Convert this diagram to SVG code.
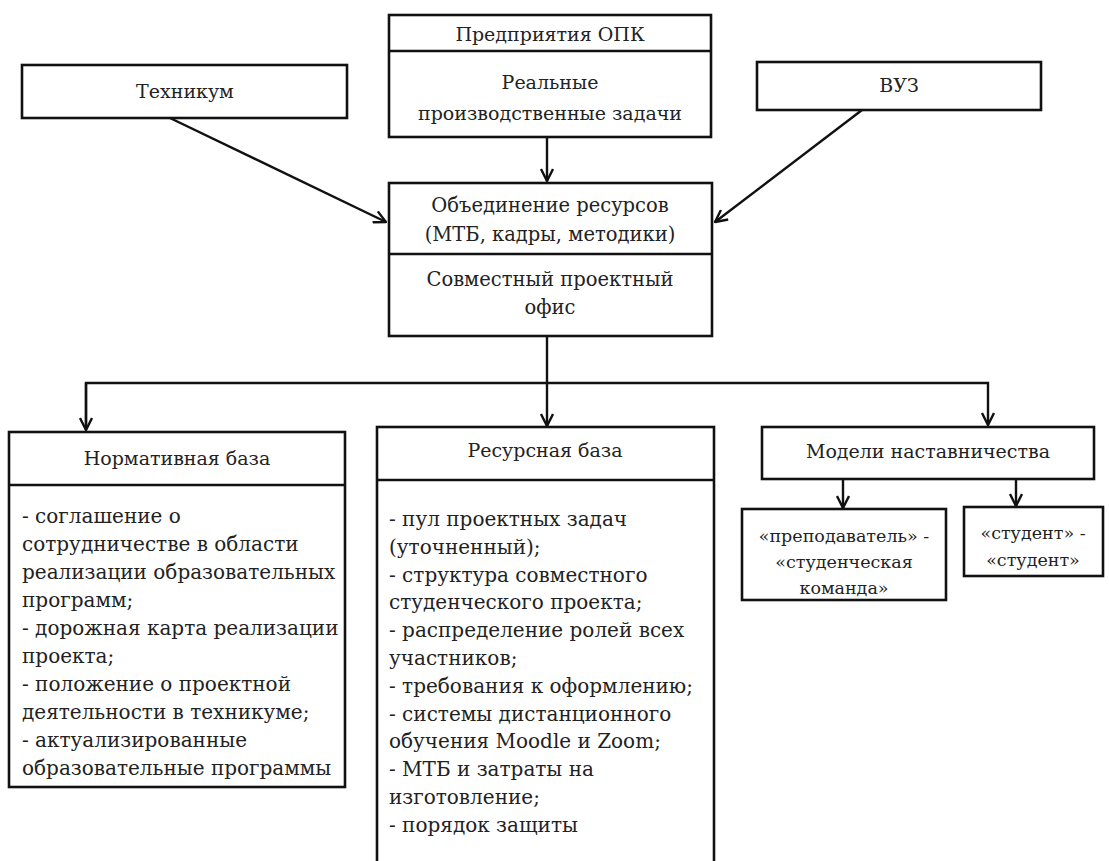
<svg xmlns="http://www.w3.org/2000/svg" width="1109" height="861" viewBox="0 0 1109 861">
<defs>
<style>
.box{fill:#fff;stroke:#111;stroke-width:2.6}
.div{stroke:#111;stroke-width:2.6}
.t{font-family:"DejaVu Serif","Liberation Serif",serif;font-size:19px;fill:#222}
.b{font-size:20px}
.m{font-size:19.5px}
.c{text-anchor:middle}
.s{font-size:17.5px}
.con{fill:none;stroke:#111;stroke-width:2.4}
</style>
<marker id="arr" viewBox="0 0 14 14" refX="13" refY="7" markerWidth="14" markerHeight="14" markerUnits="userSpaceOnUse" orient="auto">
<path d="M1,1 L13,7 L1,13" fill="none" stroke="#111" stroke-width="2.4"/>
</marker>
</defs>
<rect width="1109" height="861" fill="#fff"/>
<g id="connectors">
<line class="con" x1="547" y1="137" x2="547" y2="181" marker-end="url(#arr)"/>
<line class="con" x1="170" y1="118" x2="386" y2="222" marker-end="url(#arr)"/>
<line class="con" x1="862" y1="110" x2="715" y2="222" marker-end="url(#arr)"/>
<polyline class="con" points="547,336 547,383"/>
<polyline class="con" points="86,428 86,383 988,383 988,425" marker-end="url(#arr)"/>
<line class="con" x1="86" y1="383" x2="86" y2="430" marker-end="url(#arr)"/>
<line class="con" x1="547" y1="383" x2="547" y2="426" marker-end="url(#arr)"/>
<line class="con" x1="843" y1="479" x2="843" y2="508" marker-end="url(#arr)"/>
<line class="con" x1="1016" y1="479" x2="1016" y2="506" marker-end="url(#arr)"/>
</g>
<g id="tekhnikum">
<rect class="box" x="22" y="65" width="325" height="53"/>
<text class="t c" x="185" y="98">Техникум</text>
</g>
<g id="opk">
<rect class="box" x="389" y="15" width="322" height="122"/>
<line class="div" x1="389" y1="51" x2="711" y2="51"/>
<text class="t c" x="550" y="41">Предприятия ОПК</text>
<text class="t c" x="550" y="89">Реальные</text>
<text class="t c" x="550" y="120">производственные задачи</text>
</g>
<g id="vuz">
<rect class="box" x="757" y="62" width="284" height="48"/>
<text class="t c" x="899" y="92">ВУЗ</text>
</g>
<g id="center">
<rect class="box" x="389" y="183" width="323" height="153"/>
<line class="div" x1="389" y1="254" x2="712" y2="254"/>
<text class="t c m" x="550" y="212">Объединение ресурсов</text>
<text class="t c m" x="550" y="241">(МТБ, кадры, методики)</text>
<text class="t c m" x="550" y="286">Совместный проектный</text>
<text class="t c m" x="550" y="314">офис</text>
</g>
<g id="normativ">
<rect class="box" x="9" y="432" width="336" height="355"/>
<line class="div" x1="9" y1="485" x2="345" y2="485"/>
<text class="t c" x="177" y="465">Нормативная база</text>
<text class="t b" x="22" y="523">- соглашение о</text>
<text class="t b" x="22" y="551">сотрудничестве в области</text>
<text class="t b" x="22" y="579">реализации образовательных</text>
<text class="t b" x="22" y="607">программ;</text>
<text class="t b" x="22" y="635">- дорожная карта реализации</text>
<text class="t b" x="22" y="663">проекта;</text>
<text class="t b" x="22" y="691">- положение о проектной</text>
<text class="t b" x="22" y="719">деятельности в техникуме;</text>
<text class="t b" x="22" y="747">- актуализированные</text>
<text class="t b" x="22" y="775">образовательные программы</text>
</g>
<g id="resurs">
<rect class="box" x="377" y="427" width="337" height="450"/>
<line class="div" x1="377" y1="480" x2="714" y2="480"/>
<text class="t c" x="545" y="457">Ресурсная база</text>
<text class="t b" x="389" y="526">- пул проектных задач</text>
<text class="t b" x="389" y="554">(уточненный);</text>
<text class="t b" x="389" y="582">- структура совместного</text>
<text class="t b" x="389" y="609">студенческого проекта;</text>
<text class="t b" x="389" y="637">- распределение ролей всех</text>
<text class="t b" x="389" y="665">участников;</text>
<text class="t b" x="389" y="693">- требования к оформлению;</text>
<text class="t b" x="389" y="721">- системы дистанционного</text>
<text class="t b" x="389" y="748">обучения Moodle и Zoom;</text>
<text class="t b" x="389" y="776">- МТБ и затраты на</text>
<text class="t b" x="389" y="804">изготовление;</text>
<text class="t b" x="389" y="832">- порядок защиты</text>
</g>
<g id="modeli">
<rect class="box" x="762" y="427" width="332" height="52"/>
<text class="t c" x="928" y="458">Модели наставничества</text>
</g>
<g id="prepod">
<rect class="box" x="742" y="509" width="204" height="91"/>
<text class="t c s" x="844" y="542">«преподаватель» -</text>
<text class="t c s" x="844" y="568">«студенческая</text>
<text class="t c s" x="844" y="594">команда»</text>
</g>
<g id="student">
<rect class="box" x="964" y="507" width="139" height="69"/>
<text class="t c s" x="1033" y="539">«студент» -</text>
<text class="t c s" x="1033" y="566">«студент»</text>
</g>
</svg>
